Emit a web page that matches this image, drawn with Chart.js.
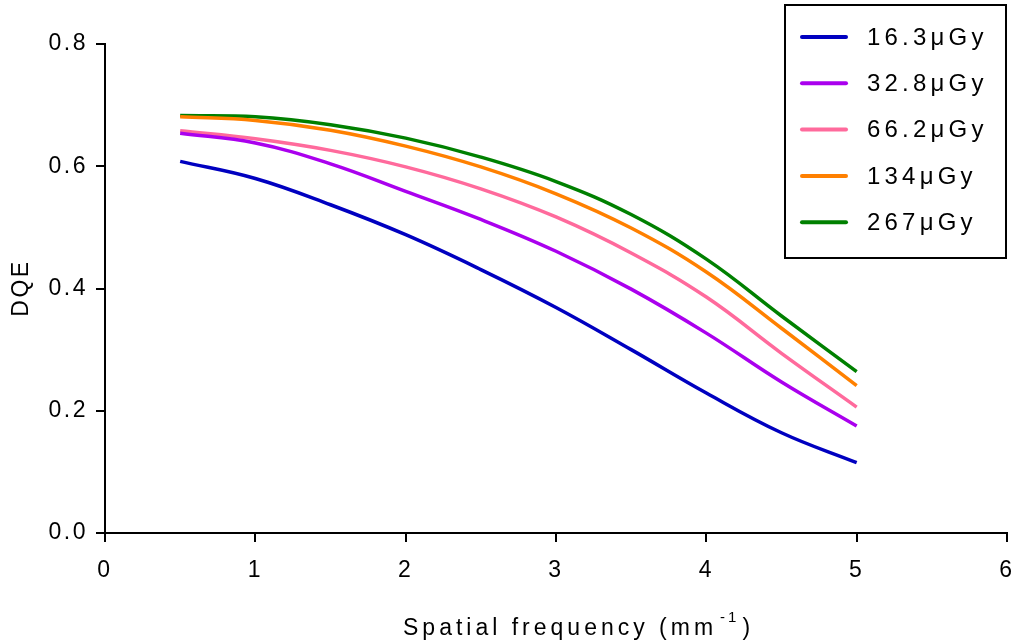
<!DOCTYPE html>
<html>
<head>
<meta charset="utf-8">
<script src="https://cdn.jsdelivr.net/npm/chart.js@4/dist/chart.umd.min.js"></script>
<style>
  html, body { margin: 0; padding: 0; background: #fff; }
  #wrap { width: 1014px; height: 643px; position: relative; }
</style>
</head>
<body>
<div id="wrap"><canvas id="c" width="1014" height="643"></canvas></div>
<script>
// ---- data ----
const freq = [0.5, 1, 1.5, 2, 2.5, 3, 3.5, 4, 4.5, 5];
const seriesLabels = ['16.3\u03bcGy', '32.8\u03bcGy', '66.2\u03bcGy', '134\u03bcGy', '267\u03bcGy'];
const dqe16  = [0.608, 0.580, 0.537, 0.488, 0.431, 0.369, 0.300, 0.229, 0.164, 0.115];
const dqe32  = [0.654, 0.638, 0.604, 0.559, 0.513, 0.461, 0.399, 0.327, 0.247, 0.175];
const dqe66  = [0.658, 0.645, 0.626, 0.599, 0.563, 0.517, 0.458, 0.386, 0.294, 0.206];
const dqe134 = [0.681, 0.675, 0.659, 0.633, 0.599, 0.555, 0.499, 0.427, 0.335, 0.241];
const dqe267 = [0.683, 0.681, 0.668, 0.646, 0.615, 0.575, 0.521, 0.448, 0.355, 0.264];
const xTickValues = [0, 1, 2, 3, 4, 5, 6];
const yTickValues = [0.0, 0.2, 0.4, 0.6, 0.8];
const xTitle = 'Spatial frequency (mm';
const xTitleSup = '-1';
const yTitle = 'DQE';

const colors = ['#0000C0', '#AA00EE', '#FF6A9C', '#FF8000', '#008000'];
const allSeries = [dqe16, dqe32, dqe66, dqe134, dqe267];
const FONT = '"Liberation Sans", Arial, sans-serif';

const datasets = allSeries.map((vals, i) => ({
  label: seriesLabels[i],
  data: freq.map((f, j) => ({ x: f, y: vals[j] })),
  borderColor: colors[i],
  backgroundColor: colors[i],
  borderWidth: 3.5,
  pointRadius: 0,
  tension: 0.4,
  fill: false
}));

const spacingPlugin = {
  id: 'spacing',
  beforeDraw(chart) { chart.ctx.letterSpacing = '2.5px'; }
};

const decorPlugin = {
  id: 'decor',
  afterDraw(chart) {
    const ctx = chart.ctx;
    ctx.save();
    // legend box
    ctx.letterSpacing = '0px';
    ctx.strokeStyle = '#000';
    ctx.lineWidth = 2;
    ctx.strokeRect(785, 5, 221, 253);
    chart.data.datasets.forEach((ds, i) => {
      const y = 37 + i * 46.3;
      ctx.beginPath();
      ctx.strokeStyle = ds.borderColor;
      ctx.lineWidth = 4;
      ctx.lineCap = 'round';
      ctx.moveTo(802, y);
      ctx.lineTo(846, y);
      ctx.stroke();
      ctx.fillStyle = '#000';
      ctx.font = '24px ' + FONT;
      ctx.letterSpacing = '4.2px';
      ctx.textAlign = 'left';
      ctx.textBaseline = 'middle';
      ctx.fillText(ds.label, 867, y + 1);
      ctx.letterSpacing = '0px';
    });
    // y title
    ctx.save();
    ctx.fillStyle = '#000';
    ctx.font = '23px ' + FONT;
    ctx.letterSpacing = '2.5px';
    ctx.translate(22, 289);
    ctx.rotate(-Math.PI / 2);
    ctx.textAlign = 'center';
    ctx.textBaseline = 'middle';
    ctx.fillText(yTitle, 1, 0);
    ctx.restore();
    // x title with superscript
    ctx.fillStyle = '#000';
    ctx.textAlign = 'left';
    ctx.textBaseline = 'alphabetic';
    ctx.font = '23px ' + FONT;
    ctx.letterSpacing = '4px';
    let x0 = 403, yb = 635;
    ctx.fillText(xTitle, x0, yb);
    x0 += ctx.measureText(xTitle).width;
    ctx.font = '15px ' + FONT;
    ctx.letterSpacing = '3px';
    ctx.fillText(xTitleSup, x0 + 3, yb - 13);
    x0 += ctx.measureText(xTitleSup).width + 6;
    ctx.font = '23px ' + FONT;
    ctx.letterSpacing = '4px';
    ctx.fillText(')', x0, yb);
    ctx.restore();
  }
};

new Chart(document.getElementById('c'), {
  type: 'line',
  data: { datasets },
  options: {
    responsive: false,
    animation: false,
    devicePixelRatio: 1,
    layout: { padding: { left: 0, right: 7, top: 44, bottom: 0 } },
    plugins: { legend: { display: false }, tooltip: { enabled: false } },
    scales: {
      x: {
        type: 'linear',
        min: 0, max: 6,
        afterFit(s) { s.height = 110; s.paddingLeft = 0; s.paddingRight = 0; },
        afterBuildTicks(s) { s.ticks = xTickValues.map(v => ({ value: v })); },
        ticks: { color: '#000', font: { size: 23, family: FONT }, padding: 15, maxRotation: 0,
                 callback: v => String(v) },
        grid: { drawOnChartArea: false, drawTicks: true, tickLength: 9, color: '#000', lineWidth: 2 },
        border: { display: true, color: '#000', width: 2 }
      },
      y: {
        type: 'linear',
        min: 0, max: 0.8,
        afterFit(s) { s.width = 105; s.paddingTop = 0; s.paddingBottom = 0; },
        afterBuildTicks(s) { s.ticks = yTickValues.map(v => ({ value: v })); },
        ticks: { color: '#000', font: { size: 23, family: FONT }, padding: 8,
                 callback: v => Number(v).toFixed(1) },
        grid: { drawOnChartArea: false, drawTicks: true, tickLength: 9, color: '#000', lineWidth: 2 },
        border: { display: true, color: '#000', width: 2 }
      }
    }
  },
  plugins: [spacingPlugin, decorPlugin]
});
</script>
</body>
</html>
